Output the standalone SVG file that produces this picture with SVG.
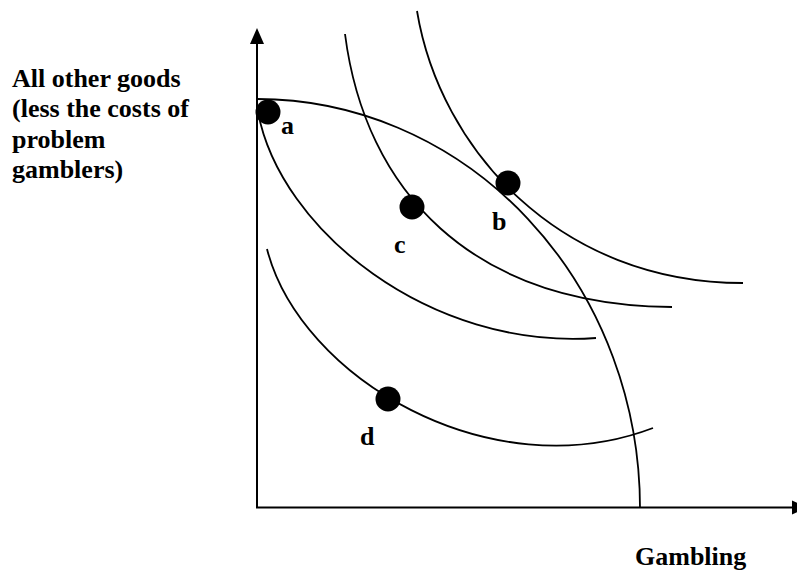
<svg xmlns="http://www.w3.org/2000/svg" width="797" height="574" viewBox="0 0 797 574">
<style>
.lbl{font-family:"Liberation Serif","Times New Roman",serif;font-weight:bold;font-size:26px;fill:#000}
.crv{fill:none;stroke:#000;stroke-width:1.8}
.axis{fill:none;stroke:#000;stroke-width:2}
.dot{fill:#000}
</style>
<rect width="797" height="574" fill="#fff"/>
<g id="connectors">
<g id="axes">
<line class="axis" x1="257" y1="42" x2="257" y2="508"/>
<polygon points="257,28 250,44 264,44" fill="#000"/>
<line class="axis" x1="256" y1="507.5" x2="794" y2="507.5"/>
<polygon points="808,507.5 792,500.5 792,514.5" fill="#000"/>
</g>
<path id="ppf" class="crv" d="M257,99 A383,409 0 0 1 640,508"/>
<path id="ic-a" class="crv" d="M258,112 C280,230 430,350 596,338"/>
<path id="ic-c" class="crv" d="M345,34 C365,190 470,305 672,307"/>
<path id="ic-b" class="crv" d="M417,11 C440,150 560,283 743,283"/>
<path id="ic-d" class="crv" d="M267,249 C300,378 490,490 653,428"/>
</g>
<g id="y-label">
<text class="lbl" x="12" y="87">All other goods</text>
<text class="lbl" x="12" y="117">(less the costs of</text>
<text class="lbl" x="12" y="148">problem</text>
<text class="lbl" x="12" y="178">gamblers)</text>
</g>
<g id="x-label"><text class="lbl" x="635" y="565">Gambling</text></g>
<g id="point-a"><circle class="dot" cx="268" cy="112" r="12.5"/><text class="lbl" x="281" y="134">a</text></g>
<g id="point-b"><circle class="dot" cx="508" cy="183" r="12.5"/><text class="lbl" x="492" y="230">b</text></g>
<g id="point-c"><circle class="dot" cx="412" cy="207" r="12.5"/><text class="lbl" x="394" y="253">c</text></g>
<g id="point-d"><circle class="dot" cx="388" cy="399" r="12.5"/><text class="lbl" x="360" y="445">d</text></g>
</svg>
